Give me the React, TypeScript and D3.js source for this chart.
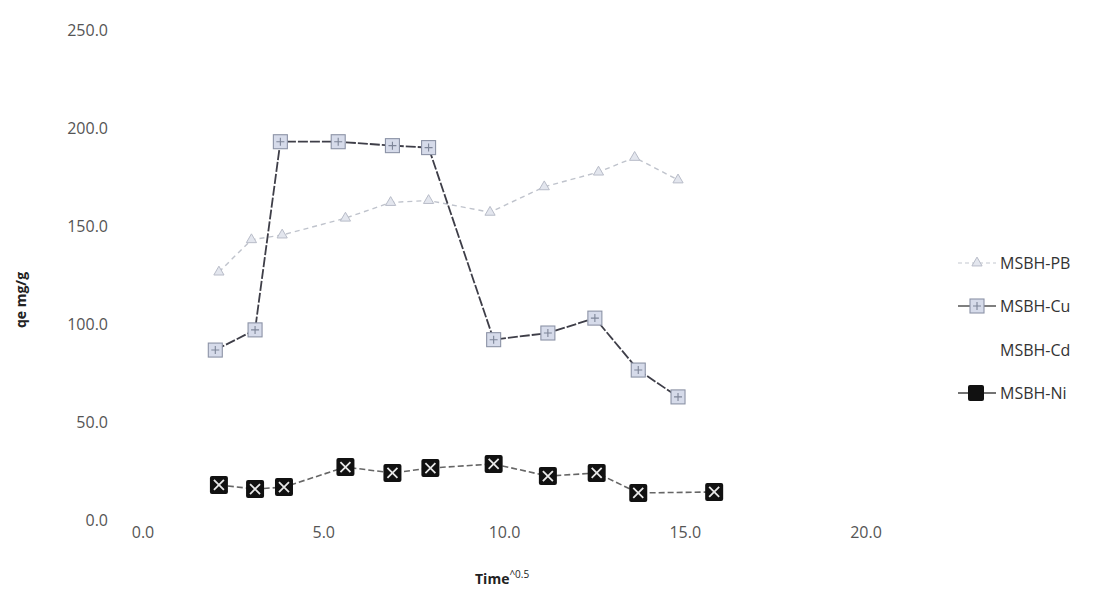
import React from 'react';
import * as d3 from 'd3';

// values
const pbX = [2.1, 3.0, 3.85, 5.6, 6.85, 7.9, 9.6, 11.1, 12.6, 13.6, 14.8];
const pbY = [126.5, 143, 145.4, 154, 162, 163, 157, 170, 177.5, 185, 173.5];

const cuX = [2.0, 3.1, 3.8, 5.4, 6.9, 7.9, 9.7, 11.2, 12.5, 13.7, 14.8];
const cuY = [86.7, 97, 193, 193, 191, 190, 92, 95.4, 103, 76.5, 62.8];

const niX = [2.1, 3.1, 3.9, 5.6, 6.9, 7.95, 9.7, 11.2, 12.55, 13.7, 15.8];
const niY = [17.9, 15.8, 16.8, 27.0, 24.0, 26.5, 28.6, 22.4, 24.0, 13.8, 14.3];

const xTicks = [0, 5, 10, 15, 20];
const yTicks = [0, 50, 100, 150, 200, 250];
const legendNames = ['MSBH-PB', 'MSBH-Cu', 'MSBH-Cd', 'MSBH-Ni'];

const font = "'Open Sans', 'Liberation Sans', sans-serif";

export default function App() {
  const x = d3.scaleLinear().domain([0, 20]).range([143, 866]);
  const y = d3.scaleLinear().domain([0, 250]).range([520, 30]);

  const zip = (xs: number[], ys: number[]) => xs.map((v, i) => [v, ys[i]] as [number, number]);
  const pb = zip(pbX, pbY);
  const cu = zip(cuX, cuY);
  const ni = zip(niX, niY);

  const line = d3.line<[number, number]>().x(d => x(d[0])).y(d => y(d[1]));
  const tri = d3.symbol().type(d3.symbolTriangle).size(45)();

  const niMarker = (cx: number, cy: number, k: string | number) => (
    <g key={k} transform={`translate(${cx},${cy})`}>
      <rect x={-9} y={-9} width={18} height={18} rx={2} fill="#111" />
      <path d="M-5,-5L5,5M5,-5L-5,5" stroke="#e8e8e8" strokeWidth={1.8} />
    </g>
  );
  const cuMarker = (cx: number, cy: number, k: string | number) => (
    <g key={k} transform={`translate(${cx},${cy})`}>
      <rect x={-7} y={-7} width={14} height={14} fill="#d6dbea" stroke="#8c93a6" strokeWidth={1.1} />
      <path d="M-4,0H4M0,-4V4" stroke="#7d8598" strokeWidth={1.1} />
    </g>
  );
  const pbMarker = (cx: number, cy: number, k: string | number) => (
    <path key={k} d={tri || ''} transform={`translate(${cx},${cy})`} fill="#e3e6ee" stroke="#b8bcc8" strokeWidth={1} />
  );

  const legendY = [263, 306, 350, 393];

  return (
    <svg width={1098} height={604} style={{ position: 'absolute', left: 0, top: 0, background: '#fff' }}>
      <rect width={1098} height={604} fill="#fff" />
      {yTicks.map(t => (
        <text key={t} x={108} y={y(t) + 6} textAnchor="end" fontFamily={font} fontSize={16} fill="#555">
          {t.toFixed(1)}
        </text>
      ))}
      {xTicks.map(t => (
        <text key={t} x={x(t)} y={538} textAnchor="middle" fontFamily={font} fontSize={16} fill="#555">
          {t.toFixed(1)}
        </text>
      ))}
      <text transform="translate(26,300) rotate(-90)" textAnchor="middle" fontFamily={font} fontSize={14} fontWeight="bold" fill="#222">
        qe mg/g
      </text>
      <text x={475} y={584} fontFamily={font} fontSize={14} fontWeight="bold" fill="#222">
        Time<tspan fontSize={10} dy={-6} fontWeight="normal">^0.5</tspan>
      </text>

      {/* PB */}
      <path d={line(pb) || ''} fill="none" stroke="#bfc3cc" strokeWidth={1.4} strokeDasharray="5,4" />
      {pb.map((d, i) => pbMarker(x(d[0]), y(d[1]), i))}

      {/* Cu */}
      <path d={line(cu) || ''} fill="none" stroke="#3e3e48" strokeWidth={1.8} strokeDasharray="10,2" />
      {cu.map((d, i) => cuMarker(x(d[0]), y(d[1]), i))}

      {/* Ni */}
      <path d={line(ni) || ''} fill="none" stroke="#666" strokeWidth={1.6} strokeDasharray="6,3" />
      {ni.map((d, i) => niMarker(x(d[0]), y(d[1]), i))}

      {/* legend */}
      <g>
        <line x1={958} x2={996} y1={legendY[0]} y2={legendY[0]} stroke="#c4c8d0" strokeWidth={1.2} strokeDasharray="4,3" />
        {pbMarker(977, legendY[0], 'lp')}
        <line x1={958} x2={996} y1={legendY[1]} y2={legendY[1]} stroke="#555" strokeWidth={1.4} />
        {cuMarker(977, legendY[1], 'lc')}
        <line x1={958} x2={996} y1={legendY[3]} y2={legendY[3]} stroke="#444" strokeWidth={1.4} />
        <rect x={968} y={legendY[3] - 8} width={16} height={16} rx={2} fill="#111" />
        {legendNames.map((n, i) => (
          <text key={n} x={1000} y={legendY[i] + 6} fontFamily={font} fontSize={16} fill="#333">
            {n}
          </text>
        ))}
      </g>
    </svg>
  );
}
